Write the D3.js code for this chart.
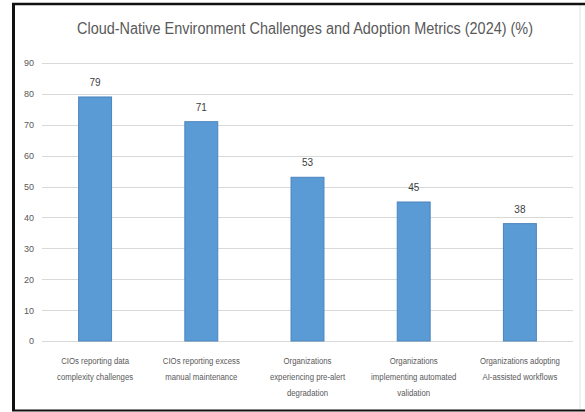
<!DOCTYPE html>
<html>
<head>
<meta charset="utf-8">
<script src="https://cdn.jsdelivr.net/npm/d3@7"></script>
<style>
  body { margin: 0; background: #fff; }
  svg { display: block; }
</style>
</head>
<body>
<svg class="chart"></svg>
<script>
// Data
var categories = [
    ["CIOs reporting data", "complexity challenges"],
    ["CIOs reporting excess", "manual maintenance"],
    ["Organizations", "experiencing pre-alert", "degradation"],
    ["Organizations", "implementing automated", "validation"],
    ["Organizations adopting", "AI-assisted workflows"]
];
var values = [79, 71, 53, 45, 38];
var yTicks = [0, 10, 20, 30, 40, 50, 60, 70, 80, 90];
var title = "Cloud-Native Environment Challenges and Adoption Metrics (2024) (%)";

var w = 585,
    h = 412;

var svg = d3.select(".chart")
    .attr("width", w)
    .attr("height", h);

var font = "'Liberation Sans Narrow', 'Liberation Sans', sans-serif";
var textColor = "#595959";

// Frame
svg.append("rect")
    .attr("x", 0).attr("y", 0)
    .attr("width", w).attr("height", h)
    .attr("fill", "#fff");
svg.append("line")
    .attr("x1", 580).attr("x2", 580).attr("y1", 5).attr("y2", 409)
    .attr("stroke", "#e2e2e2").attr("stroke-width", 1);
svg.append("line")
    .attr("x1", 12).attr("x2", w).attr("y1", 4).attr("y2", 4)
    .attr("stroke", "#111").attr("stroke-width", 2.5);
svg.append("line")
    .attr("x1", 13.5).attr("x2", 13.5).attr("y1", 3).attr("y2", 411)
    .attr("stroke", "#111").attr("stroke-width", 3);
svg.append("line")
    .attr("x1", 12).attr("x2", w).attr("y1", 410.5).attr("y2", 410.5)
    .attr("stroke", "#111").attr("stroke-width", 2);

// Scales
var xScale = d3.scaleBand()
    .domain(d3.range(values.length))
    .range([42, 573])
    .paddingInner(0.69)
    .paddingOuter(0.345);

var yScale = d3.scaleLinear()
    .domain([0, 90])
    .range([341, 63]);

// Gridlines
svg.append("g")
    .selectAll("line")
    .data(yTicks)
    .enter().append("line")
    .attr("x1", 42)
    .attr("x2", 573)
    .attr("y1", function(d) { return Math.round(yScale(d)) + 0.5; })
    .attr("y2", function(d) { return Math.round(yScale(d)) + 0.5; })
    .attr("stroke", "#d9d9d9")
    .attr("stroke-width", 1.2);

// Y axis labels
var yAxis = d3.axisLeft(yScale).tickValues(yTicks).tickSize(0).tickPadding(0);
var gy = svg.append("g")
    .attr("transform", "translate(34,0)")
    .call(yAxis);
gy.select(".domain").remove();
gy.selectAll("text")
    .attr("fill", textColor)
    .attr("font-family", font)
    .attr("font-size", "9px");

// Bars
svg.append("g")
    .selectAll("rect")
    .data(values)
    .enter().append("rect")
    .attr("x", function(d, i) { return xScale(i); })
    .attr("y", function(d) { return yScale(d); })
    .attr("width", xScale.bandwidth())
    .attr("height", function(d) { return yScale(0) - yScale(d); })
    .attr("fill", "#5b9bd5")
    .attr("stroke", "#4a84bd")
    .attr("stroke-width", 1);

// Value labels
svg.append("g")
    .selectAll("text")
    .data(values)
    .enter().append("text")
    .attr("x", function(d, i) { return xScale(i) + xScale.bandwidth() / 2; })
    .attr("y", function(d) { return yScale(d) - 11; })
    .attr("text-anchor", "middle")
    .attr("fill", "#404040")
    .attr("font-family", font)
    .attr("font-size", "10px")
    .text(function(d) { return d; });

// Category labels (squeezed horizontally, like the narrow original font)
var cat = svg.append("g")
    .selectAll("text")
    .data(categories)
    .enter().append("text")
    .attr("transform", function(d, i) {
        return "translate(" + (xScale(i) + xScale.bandwidth() / 2) + ",364) scale(0.82,1)";
    })
    .attr("text-anchor", "middle")
    .attr("fill", textColor)
    .attr("font-family", font)
    .attr("font-size", "9.5px");
cat.selectAll("tspan")
    .data(function(d) { return d; })
    .enter().append("tspan")
    .attr("x", 0)
    .attr("dy", function(d, i) { return i === 0 ? 0 : 16; })
    .text(function(d) { return d; });

// Title
svg.append("text")
    .attr("x", 305)
    .attr("y", 34)
    .attr("text-anchor", "middle")
    .attr("fill", textColor)
    .attr("font-family", font)
    .attr("font-size", "16px")
    .attr("textLength", 456)
    .attr("lengthAdjust", "spacingAndGlyphs")
    .text(title);
</script>
</body>
</html>
